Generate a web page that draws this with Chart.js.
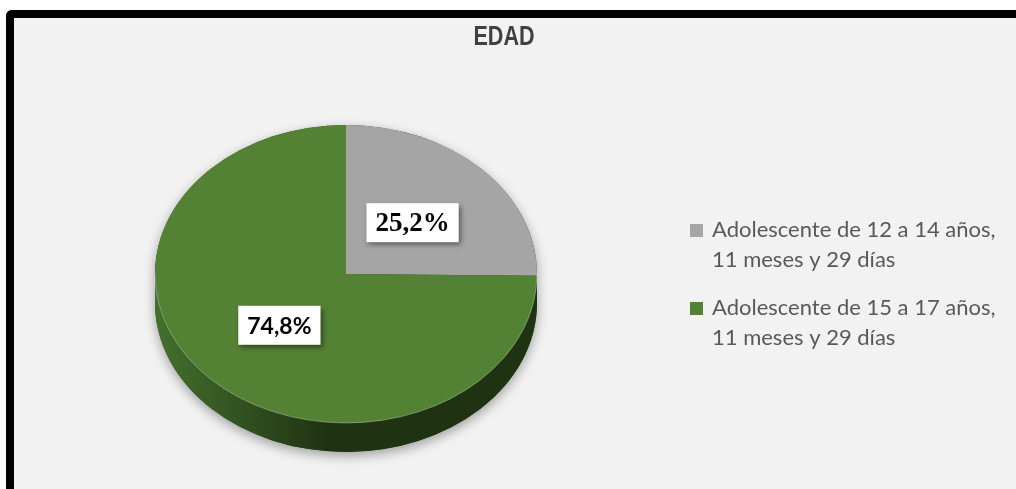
<!DOCTYPE html>
<html>
<head>
<meta charset="utf-8">
<script src="https://cdn.jsdelivr.net/npm/chart.js@4/dist/chart.umd.min.js"></script>
<style>
    html, body { margin: 0; padding: 0; background: #fff; width: 1016px; height: 489px; overflow: hidden; }
    #frame { position: absolute; left: 6px; top: 10px; width: 1100px; height: 600px; border-top: 8px solid #000; border-left: 8px solid #000; border-top-left-radius: 6px; background: #f2f2f2; }
    #wrap { position: absolute; left: 0; top: 0; width: 1016px; height: 489px; }
</style>
</head>
<body>
<div id="frame"></div>
<div id="wrap"><canvas id="edadChart"></canvas></div>
<script>
// data
const chartTitle = 'EDAD';
const categories = [
    ['Adolescente de 12 a 14 años,', '11 meses y 29 días'],
    ['Adolescente de 15 a 17 años,', '11 meses y 29 días']
];
const values = [25.2, 74.8];
const valueLabels = ['25,2%', '74,8%'];
const sliceColors = ['#a5a5a5', '#548235'];
const sideColors = [['#8c8c8c', '#6e6e6e'], ['#44702d', '#1f3313']];

var squash = 0.78;   // tilt of the pie
var depth = 29;      // thickness of the pie

function pieGeom(chart) {
    var arc = chart.getDatasetMeta(0).data[0];
    return { cx: arc.x, cy: arc.y, r: arc.outerRadius };
}

var pie3d = {
    id: 'pie3d',
    beforeDatasetsDraw: function(chart) {
        var ctx = chart.ctx;
        var g = pieGeom(chart);
        var rx = g.r, ry = g.r * squash;

        // soft shadow under the whole pie
        ctx.save();
        ctx.shadowColor = 'rgba(0,0,0,0.35)';
        ctx.shadowBlur = 12;
        ctx.shadowOffsetY = 4;
        ctx.fillStyle = '#2a461c';
        ctx.beginPath();
        ctx.ellipse(g.cx, g.cy, rx, ry, 0, Math.PI, 0);
        ctx.lineTo(g.cx + rx, g.cy + depth);
        ctx.ellipse(g.cx, g.cy + depth, rx, ry, 0, 0, Math.PI);
        ctx.closePath();
        ctx.fill();
        ctx.restore();

        // visible side of each slice
        chart.getDatasetMeta(0).data.forEach(function(arc, i) {
            var a = Math.max(arc.startAngle, 0);
            var b = Math.min(arc.endAngle, Math.PI);
            if (b <= a) return;
            var grad = ctx.createLinearGradient(g.cx - rx, 0, g.cx + rx, 0);
            grad.addColorStop(0, sideColors[i][0]);
            grad.addColorStop(0.45, sideColors[i][1]);
            grad.addColorStop(1, sideColors[i][1]);
            ctx.fillStyle = grad;
            ctx.beginPath();
            ctx.ellipse(g.cx, g.cy, rx, ry, 0, a, b);
            ctx.ellipse(g.cx, g.cy + depth, rx, ry, 0, b, a, true);
            ctx.closePath();
            ctx.fill();
        });

        // squash the round pie into an ellipse
        ctx.save();
        ctx.translate(g.cx, g.cy);
        ctx.scale(1, squash);
        ctx.translate(-g.cx, -g.cy);
    },
    afterDatasetsDraw: function(chart) {
        var ctx = chart.ctx;
        ctx.restore();
        var g = pieGeom(chart);

        // light rim on the front edge
        ctx.save();
        ctx.strokeStyle = 'rgba(255,255,255,0.3)';
        ctx.lineWidth = 1;
        ctx.beginPath();
        ctx.ellipse(g.cx, g.cy, g.r, g.r * squash, 0, 0, Math.PI);
        ctx.stroke();
        ctx.restore();

        // value labels in white boxes
        var fonts = ['bold 27px "Liberation Serif", "Times New Roman", serif', 'bold 23px Lato, "Noto Sans", sans-serif'];
        chart.getDatasetMeta(0).data.forEach(function(arc, i) {
            var mid = (arc.startAngle + arc.endAngle) / 2;
            var rr = g.r * 0.49;
            var x = g.cx + Math.cos(mid) * rr;
            var y = g.cy + Math.sin(mid) * rr * squash;
            ctx.save();
            ctx.font = fonts[i];
            var w = ctx.measureText(valueLabels[i]).width + 18;
            var h = 39;
            ctx.shadowColor = 'rgba(0,0,0,0.45)';
            ctx.shadowBlur = 5;
            ctx.shadowOffsetX = 2;
            ctx.shadowOffsetY = 3;
            ctx.fillStyle = '#fff';
            ctx.fillRect(x - w / 2, y - h / 2, w, h);
            ctx.shadowColor = 'transparent';
            ctx.fillStyle = '#000';
            ctx.textAlign = 'center';
            ctx.textBaseline = 'middle';
            ctx.fillText(valueLabels[i], x, y + 1);
            ctx.restore();
        });
    },
    afterDraw: function(chart) {
        var ctx = chart.ctx;
        ctx.save();
        // title, squeezed to look like a narrow face
        ctx.fillStyle = '#404040';
        ctx.font = 'bold 27px "Liberation Sans", Arial, sans-serif';
        ctx.textAlign = 'center';
        ctx.textBaseline = 'alphabetic';
        ctx.save();
        ctx.translate(504, 45);
        ctx.scale(0.8, 1);
        ctx.fillText(chartTitle, 0, 0);
        ctx.restore();

        // legend
        ctx.textAlign = 'left';
        ctx.font = '22px Lato, "Noto Sans", sans-serif';
        categories.forEach(function(lines, i) {
            var base = 237 + i * 78;
            ctx.fillStyle = sliceColors[i];
            ctx.fillRect(690, base - 13, 13, 13);
            ctx.fillStyle = '#595959';
            lines.forEach(function(line, j) {
                ctx.fillText(line, 712, base + j * 30);
            });
        });
        ctx.restore();
    }
};

var ctx = document.getElementById('edadChart').getContext('2d');
var chart = new Chart(ctx, {
    type: 'pie',
    data: {
        labels: categories,
        datasets: [{
            data: values,
            backgroundColor: sliceColors,
            borderWidth: 0
        }]
    },
    options: {
        responsive: true,
        maintainAspectRatio: false,
        animation: false,
        events: [],
        layout: {
            padding: { left: 155, right: 479, top: 83, bottom: 24 }
        },
        plugins: {
            legend: { display: false },
            tooltip: { enabled: false },
            title: { display: false }
        }
    },
    plugins: [pie3d]
});
</script>
</body>
</html>
